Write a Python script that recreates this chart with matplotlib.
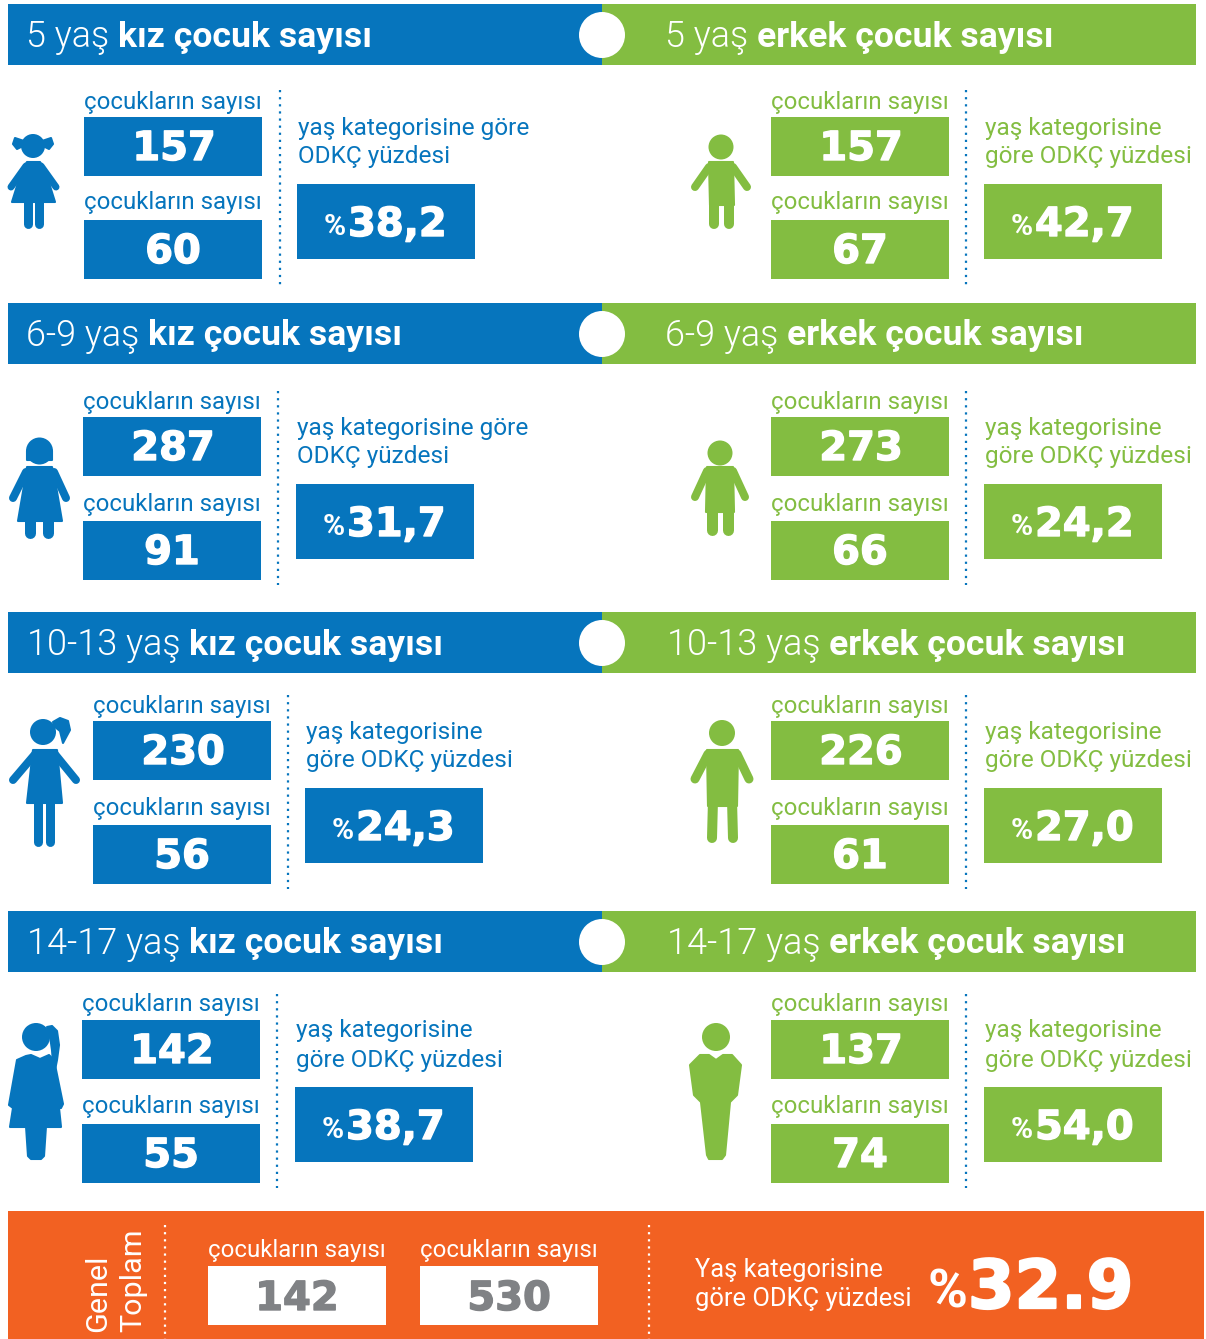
import matplotlib
matplotlib.use('Agg')
import matplotlib.pyplot as plt
import matplotlib.patheffects as pe
from matplotlib.patches import Rectangle, Circle, Polygon

# --- Data ---
age_groups = ['5 yaş', '6-9 yaş', '10-13 yaş', '14-17 yaş']
girls_total = ['157', '287', '230', '142']
girls_odkc = ['60', '91', '56', '55']
girls_pct = ['38,2', '31,7', '24,3', '38,7']
boys_total = ['157', '273', '226', '137']
boys_odkc = ['67', '66', '61', '74']
boys_pct = ['42,7', '24,2', '27,0', '54,0']
girls_pct_label = [['yaş kategorisine göre', 'ODKÇ yüzdesi'],
                   ['yaş kategorisine göre', 'ODKÇ yüzdesi'],
                   ['yaş kategorisine', 'göre ODKÇ yüzdesi'],
                   ['yaş kategorisine', 'göre ODKÇ yüzdesi']]
boys_pct_label = ['yaş kategorisine', 'göre ODKÇ yüzdesi']
count_label = 'çocukların sayısı'
total_values = ['142', '530']
total_pct = '32.9'

BLUE = '#0675BD'
GREEN = '#83BD41'
ORANGE = '#F26122'
GREY = '#808285'
FONT = 'Roboto'
NUM_FONT = 'DejaVu Sans'

# --- Layout, in reference pixels ---
row_top = [4, 303, 612, 911]
box_top_1 = [117, 417, 721, 1020]
box_top_2 = [220, 521, 825, 1124]
pct_top = [184, 484, 788, 1087]
dots_span = [(90, 285), (391, 585), (695, 889), (994, 1188)]
girls_box_x = [84, 83, 93, 82]
girls_dots_x = [280, 278, 288, 277]
girls_pct_x = [297, 296, 305, 295]
boys_box_x = 771
boys_dots_x = 966
boys_pct_x = 984

fig = plt.figure(figsize=(12.06, 13.39), dpi=100)
ax = fig.add_axes([0, 0, 1, 1])
ax.set_xlim(0, 1206)
ax.set_ylim(1339, 0)
ax.axis('off')


def px(n):
    return n * 0.72


def box(x, y, w, h, color):
    ax.add_patch(Rectangle((x, y), w, h, facecolor=color, edgecolor='none'))


def dots(x, y0, y1, color):
    ax.plot([x, x], [y0, y1], color=color, lw=1.6, linestyle=(0, (1, 2.2)))


def limb(points, width, color):
    xs, ys = zip(*points)
    ax.plot(xs, ys, color=color, lw=px(width), solid_capstyle='round', solid_joinstyle='round')


def shape(points, color):
    ax.add_patch(Polygon(points, closed=True, facecolor=color, edgecolor=color, lw=1.5, joinstyle='round'))


def head(x, y, r, color):
    ax.add_patch(Circle((x, y), r, facecolor=color, edgecolor='none'))


def number(x, y, s, color, size, ha='center'):
    # the reference digits are heavier than DejaVu bold, so thicken them a little
    t = ax.text(x, y, s, color=color, fontsize=px(size), family=NUM_FONT, fontweight='bold',
                ha=ha, va='center')
    t.set_path_effects([pe.withStroke(linewidth=size * 0.025, foreground=color)])


def header(y, age, word, tx):
    t = ax.text(tx, y, age + ' ', color='white', fontsize=px(36), family=FONT,
                fontweight=300, va='center', ha='left')
    r = fig.canvas.get_renderer()
    end = ax.transData.inverted().transform(t.get_window_extent(r))[1][0]
    ax.text(end, y, word + ' çocuk sayısı', color='white', fontsize=px(35.5), family=FONT,
            fontweight='bold', va='center', ha='left')


def block(i, bx, dx, pct_x, color, total, odkc, pct, lines):
    ax.text(bx + 88.5, box_top_1[i] - 15, count_label, color=color, fontsize=px(24),
            family=FONT, ha='center', va='center')
    box(bx, box_top_1[i], 178, 59, color)
    number(bx + 90, box_top_1[i] + 32, total, 'white', 40)
    ax.text(bx + 88.5, box_top_2[i] - 17, count_label, color=color, fontsize=px(24),
            family=FONT, ha='center', va='center')
    box(bx, box_top_2[i], 178, 59, color)
    number(bx + 89, box_top_2[i] + 32, odkc, 'white', 40)
    dots(dx, *dots_span[i], BLUE)
    ax.text(pct_x + 1, pct_top[i] - 56, lines[0], color=color, fontsize=px(24.4),
            family=FONT, ha='left', va='center')
    ax.text(pct_x + 1, pct_top[i] - 27, lines[1], color=color, fontsize=px(24.4),
            family=FONT, ha='left', va='center')
    box(pct_x, pct_top[i], 178, 75, color)
    ax.text(pct_x + 27, pct_top[i] + 43, '%', color='white', fontsize=px(30),
            family=FONT, fontweight='bold', ha='left', va='center')
    number(pct_x + 51, pct_top[i] + 41, pct, 'white', 40, ha='left')


def girl_0(c):
    head(33, 146, 12, c)
    shape([(24, 141), (15, 138), (13, 144), (17, 149), (23, 146)], c)
    shape([(42, 141), (51, 138), (53, 144), (49, 149), (43, 146)], c)
    shape([(27, 162), (40, 162), (45, 170), (55, 202), (12, 202), (22, 170)], c)
    limb([(26, 166), (11, 187)], 7, c)
    limb([(41, 166), (56, 187)], 7, c)
    limb([(28, 200), (28, 224)], 9, c)
    limb([(39, 200), (39, 224)], 9, c)


def girl_1(c):
    head(39.5, 451, 13.5, c)
    shape([(27, 451), (52, 451), (52, 460), (27, 460)], c)
    shape([(27, 467), (52, 467), (55, 480), (62, 521), (18, 521), (25, 480)], c)
    limb([(26, 472), (13, 498)], 8, c)
    limb([(54, 472), (66, 498)], 8, c)
    limb([(30, 520), (30, 533)], 11, c)
    limb([(48, 520), (48, 533)], 11, c)


def girl_2(c):
    head(43, 732, 13, c)
    shape([(53, 722), (60, 718), (68, 721), (70, 730), (63, 743), (60, 731), (55, 727)], c)
    shape([(33, 750), (57, 750), (62, 803), (27, 803)], c)
    limb([(36, 753), (13, 780)], 8, c)
    limb([(54, 753), (76, 780)], 8, c)
    limb([(38, 800), (38, 842)], 9, c)
    limb([(50, 800), (50, 842)], 9, c)


def girl_3(c):
    head(36, 1037, 14, c)
    shape([(47, 1027), (52, 1026), (57, 1031), (59, 1045), (57, 1060), (54, 1075), (52, 1050), (50, 1036)], c)
    shape([(26, 1056), (31, 1055), (40, 1059), (49, 1055), (54, 1060), (63, 1104), (61, 1108),
           (59, 1108), (61, 1127), (10, 1127), (13, 1108), (9, 1105), (17, 1060)], c)
    shape([(26, 1126), (46, 1126), (44, 1156), (41, 1159), (31, 1159), (28, 1156)], c)


def boy_0(c):
    head(721, 147, 12.5, c)
    shape([(709, 162), (733, 162), (734, 205), (710, 205)], c)
    limb([(709, 167), (695, 187)], 8, c)
    limb([(733, 167), (747, 187)], 8, c)
    limb([(714, 200), (714, 224)], 10, c)
    limb([(729, 200), (729, 224)], 10, c)


def boy_1(c):
    head(720, 453, 12.5, c)
    shape([(707, 467), (733, 467), (734, 512), (706, 512)], c)
    limb([(707, 471), (695, 497)], 8, c)
    limb([(733, 471), (745, 497)], 8, c)
    limb([(712, 505), (712, 530)], 11, c)
    limb([(728, 505), (728, 530)], 11, c)


def boy_2(c):
    head(722, 733, 13, c)
    shape([(707, 750), (738, 750), (737, 806), (708, 806)], c)
    limb([(708, 754), (695, 779)], 9, c)
    limb([(737, 754), (749, 779)], 9, c)
    limb([(713, 800), (712, 838)], 10, c)
    limb([(732, 800), (733, 838)], 10, c)


def boy_3(c):
    head(716, 1037, 14, c)
    shape([(700, 1055), (709, 1055), (716, 1060), (723, 1055), (732, 1055), (741, 1065), (737, 1095),
           (730, 1102), (725, 1155), (722, 1159), (709, 1159), (707, 1155), (701, 1102), (694, 1095),
           (690, 1065)], c)


girl_icons = [girl_0, girl_1, girl_2, girl_3]
boy_icons = [boy_0, boy_1, boy_2, boy_3]
boy_text_x = [665, 665, 667, 667]
girl_text_x = [26, 26, 27, 27]

for i, age in enumerate(age_groups):
    top = row_top[i]
    box(8, top, 594, 61, BLUE)
    box(602, top, 594, 61, GREEN)
    head(602, top + 31, 23, 'white')
    header(top + 33, age, 'kız', girl_text_x[i])
    header(top + 33, age, 'erkek', boy_text_x[i])
    block(i, girls_box_x[i], girls_dots_x[i], girls_pct_x[i], BLUE,
          girls_total[i], girls_odkc[i], girls_pct[i], girls_pct_label[i])
    block(i, boys_box_x, boys_dots_x, boys_pct_x, GREEN,
          boys_total[i], boys_odkc[i], boys_pct[i], boys_pct_label)
    girl_icons[i](BLUE)
    boy_icons[i](GREEN)

# --- Total band ---
box(8, 1211, 1196, 128, ORANGE)
dots(165, 1225, 1339, 'white')
dots(649, 1225, 1339, 'white')
ax.text(98, 1332, 'Genel', color='white', fontsize=px(30.5), family=FONT, rotation=90,
        ha='center', va='bottom')
ax.text(133, 1332, 'Toplam', color='white', fontsize=px(30.5), family=FONT, rotation=90,
        ha='center', va='bottom')
for bx, value in zip([208, 420], total_values):
    ax.text(bx + 88.5, 1251, count_label, color='white', fontsize=px(24), family=FONT,
            ha='center', va='center')
    box(bx, 1266, 178, 59, 'white')
    number(bx + 89, 1299, value, GREY, 40)
ax.text(695, 1270, 'Yaş kategorisine', color='white', fontsize=px(25.5), family=FONT,
        ha='left', va='center')
ax.text(695, 1299, 'göre ODKÇ yüzdesi', color='white', fontsize=px(25.5), family=FONT,
        ha='left', va='center')
ax.text(927, 1293, '%', color='white', fontsize=px(54), family=FONT, fontweight='bold',
        ha='left', va='center')
number(968, 1289, total_pct, 'white', 67, ha='left')

fig.savefig('out.png', dpi=100, facecolor='white')
